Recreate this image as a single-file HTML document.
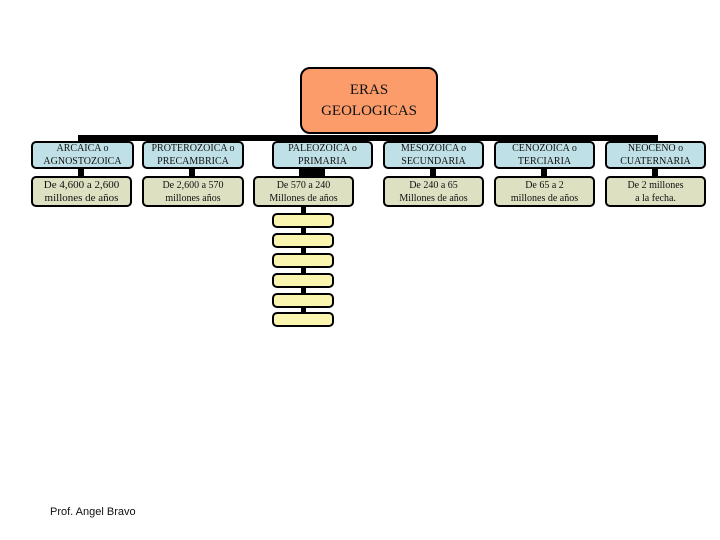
<!DOCTYPE html>
<html><head><meta charset="utf-8"><style>
body{margin:0;width:720px;height:540px;background:#fff;position:relative;overflow:hidden;font-family:"Liberation Serif",serif;}
.b{position:absolute;box-sizing:border-box;border:2px solid #000;border-radius:5px;text-align:center;color:#111;display:flex;align-items:center;justify-content:center;line-height:13px;font-size:10px;}
.t{background:#bfe0e6;height:28px;top:141px;}
.m{background:#dee0c2;height:31px;top:176px;}
.y{background:#faf5ae;left:272px;width:62px;height:15px;}
.k{position:absolute;background:#000;}
</style></head><body>
<div class="k" style="left:78px;top:135px;width:580px;height:6px"></div>
<div class="b" style="left:300px;top:67px;width:138px;height:67px;background:#fb9c6a;border-radius:10px;font-size:15px;line-height:21px;">ERAS<br>GEOLOGICAS</div>

<div class="k" style="left:78px;top:166px;width:6px;height:12px"></div>
<div class="k" style="left:189px;top:166px;width:6px;height:12px"></div>
<div class="k" style="left:299px;top:166px;width:26px;height:12px"></div>
<div class="k" style="left:430px;top:166px;width:6px;height:12px"></div>
<div class="k" style="left:541px;top:166px;width:6px;height:12px"></div>
<div class="k" style="left:652px;top:166px;width:6px;height:12px"></div>
<div class="k" style="left:301px;top:205px;width:5px;height:120px"></div>

<div class="b t" style="left:31px;width:103px">ARCAICA o<br>AGNOSTOZOICA</div>
<div class="b t" style="left:142px;width:102px">PROTEROZOICA o<br>PRECAMBRICA</div>
<div class="b t" style="left:272px;width:101px">PALEOZOICA o<br>PRIMARIA</div>
<div class="b t" style="left:383px;width:101px">MESOZOICA o<br>SECUNDARIA</div>
<div class="b t" style="left:494px;width:101px">CENOZOICA o<br>TERCIARIA</div>
<div class="b t" style="left:605px;width:101px">NEOCENO o<br>CUATERNARIA</div>

<div class="b m" style="left:31px;width:101px;font-size:11px">De 4,600 a 2,600<br>millones de años</div>
<div class="b m" style="left:142px;width:102px">De 2,600 a 570<br>millones años</div>
<div class="b m" style="left:253px;width:101px">De 570 a 240<br>Millones de años</div>
<div class="b m" style="left:383px;width:101px">De 240 a 65<br>Millones de años</div>
<div class="b m" style="left:494px;width:101px">De 65 a 2<br>millones de años</div>
<div class="b m" style="left:605px;width:101px">De 2 millones<br>a la fecha.</div>

<div class="b y" style="top:213px"></div>
<div class="b y" style="top:233px"></div>
<div class="b y" style="top:253px"></div>
<div class="b y" style="top:273px"></div>
<div class="b y" style="top:293px"></div>
<div class="b y" style="top:312px"></div>

<div style="position:absolute;left:50px;top:506px;font-family:'Liberation Sans',sans-serif;font-size:11px;color:#111">Prof. Angel Bravo</div>
</body></html>
